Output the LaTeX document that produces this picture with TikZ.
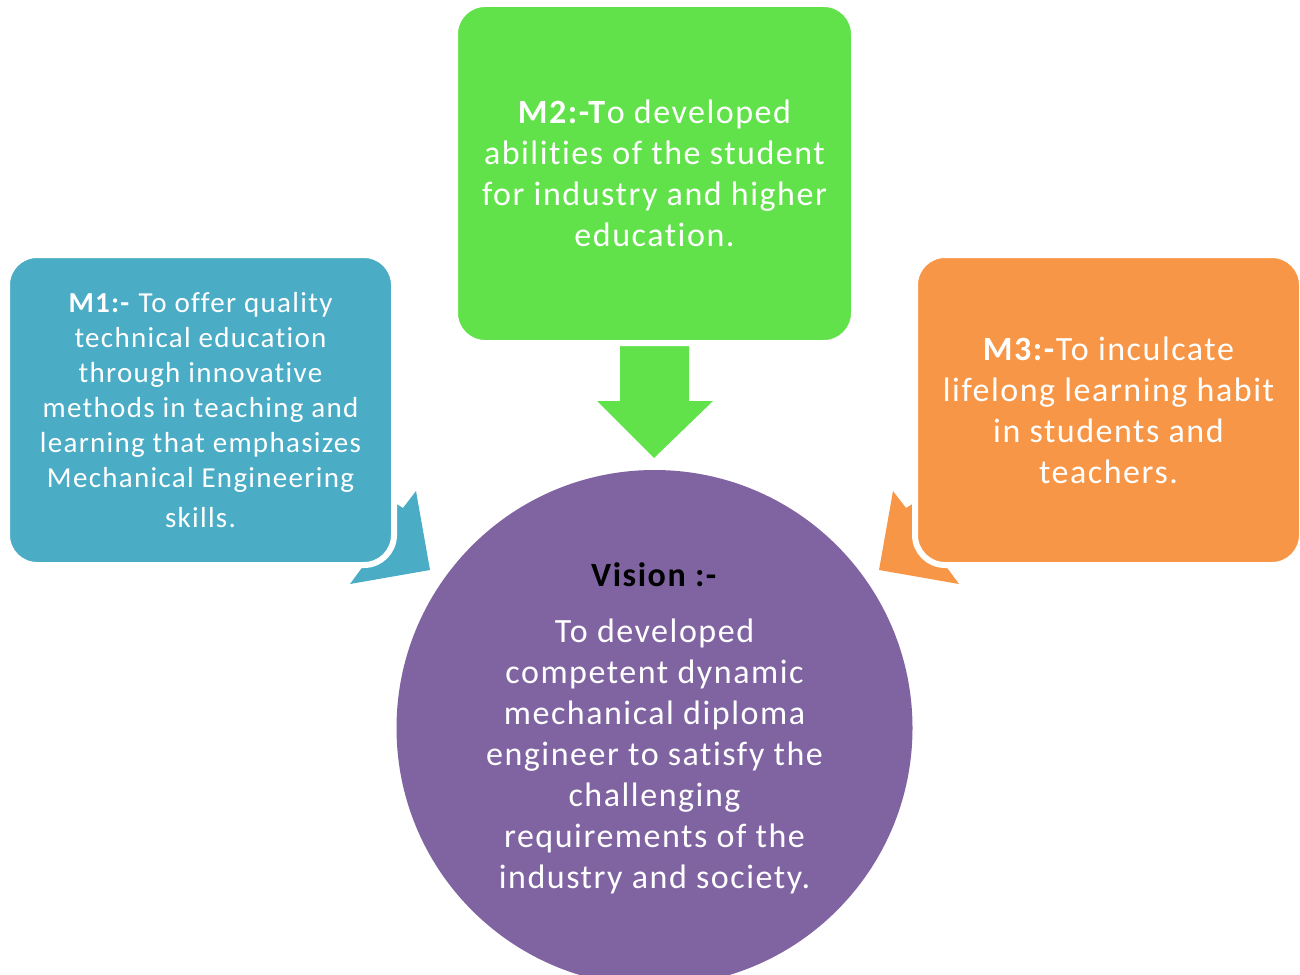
\documentclass[tikz,border=0pt]{standalone}
\usepackage{fontspec}
\setmainfont{Carlito}[Ligatures=NoCommon,LetterSpace=4.5]
\usetikzlibrary{shapes}
\definecolor{mblue}{RGB}{75,172,198}
\definecolor{mgreen}{RGB}{98,226,74}
\definecolor{morange}{RGB}{247,150,70}
\definecolor{mpurple}{RGB}{128,100,162}

\begin{document}
\begin{tikzpicture}[x=1pt,y=-1pt]
\tikzset{mbox/.style={rectangle,rounded corners=30pt,draw=white,line width=6pt,text=white,align=center,inner sep=0pt}}
\useasboundingbox (0,0) rectangle (1300,974);

\fill[mgreen] (620,345) -- (689,345) -- (689,401) -- (713,401) -- (654,458) -- (597,401) -- (620,401) -- cycle;
\fill[mblue] (350,584) -- (430,570) -- (416,491) -- (403,508) -- (395,503) -- (375,495) -- (375,550) -- cycle;
\fill[morange] (959,584) -- (879,570) -- (893,491) -- (906,508) -- (914,503) -- (934,495) -- (934,550) -- cycle;

\node[mbox,fill=mblue,minimum width=387pt,minimum height=310pt,font=\fontsize{29}{35}\selectfont] (m1) at (200.5,410)
  {\textbf{M1:-} To offer quality\\technical education\\through innovative\\methods in teaching and\\learning that emphasizes\\Mechanical Engineering\\[5pt]skills.};
\node[mbox,fill=mgreen,minimum width=399pt,minimum height=339pt,font=\fontsize{34}{41}\selectfont] (m2) at (654.5,173.5)
  {\textbf{M2:-T}o developed\\abilities of the student\\for industry and higher\\education.};
\node[mbox,fill=morange,minimum width=387pt,minimum height=310pt,font=\fontsize{34}{41}\selectfont] (m3) at (1108.5,410)
  {\textbf{M3:-}To inculcate\\lifelong learning habit\\in students and\\teachers.};

\node[circle,fill=mpurple,minimum size=516pt,inner sep=0pt,text=white,align=center,font=\fontsize{34}{41}\selectfont] (vision) at (654.5,728)
  {\textcolor{black}{\textbf{Vision :-}}\\[15pt]To developed\\competent dynamic\\mechanical diploma\\engineer to satisfy the\\challenging\\requirements of the\\industry and society.};

\end{tikzpicture}
\end{document}
